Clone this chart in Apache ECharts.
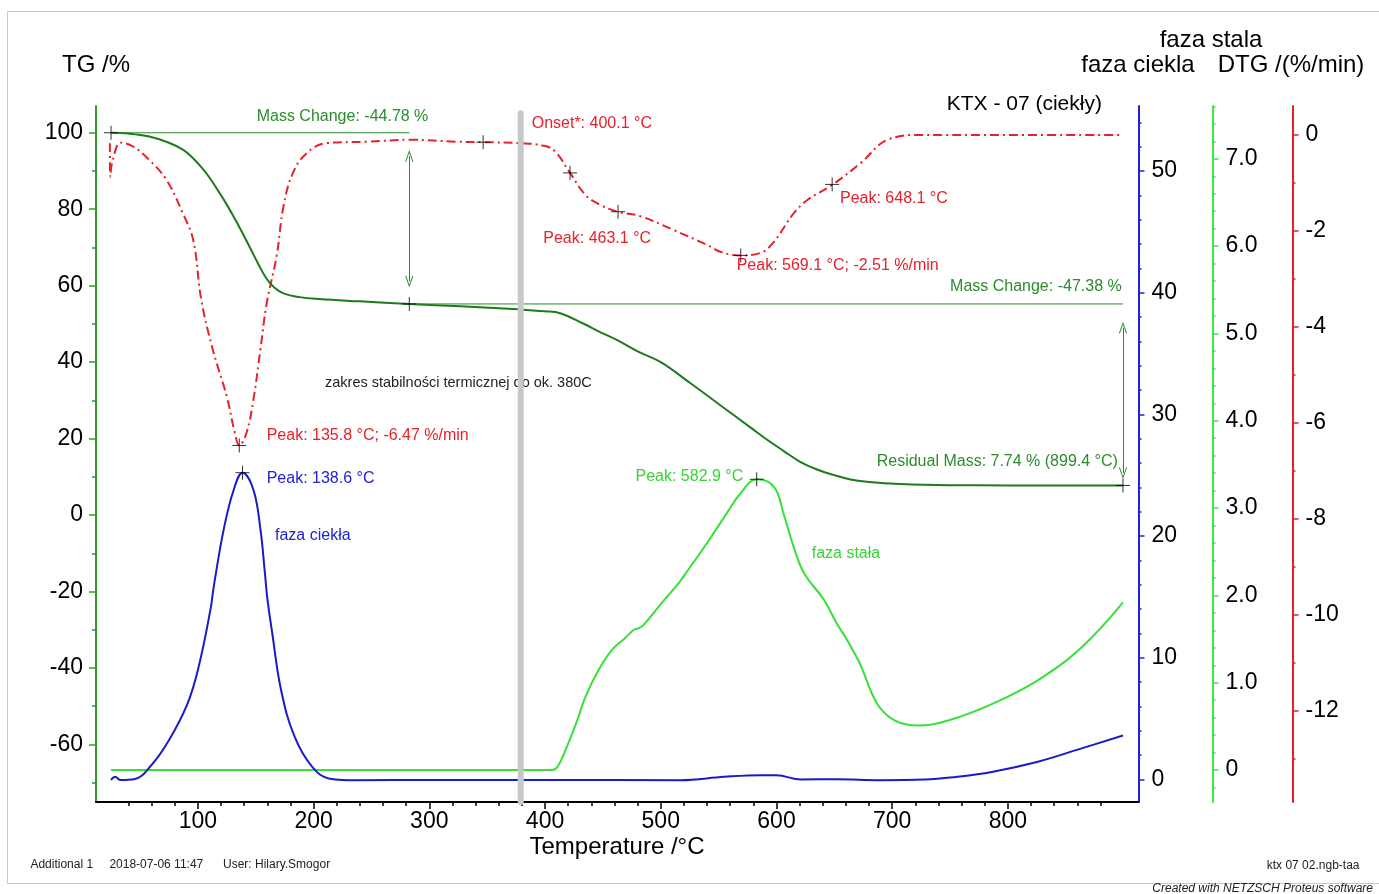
<!DOCTYPE html>
<html>
<head>
<meta charset="utf-8">
<script src="https://cdn.jsdelivr.net/npm/echarts@6/dist/echarts.min.js"></script>
<style>
html,body{margin:0;padding:0;background:#fff}
#chart{width:1379px;height:894px}
</style>
</head>
<body>
<div id="chart"></div>
<script>
// TG curve (left axis, %)
const tgTemp = [25, 40, 58, 75, 87, 95, 103, 110, 118, 125, 131, 138, 145, 152, 159, 166, 174, 188, 205, 240,
  283, 327, 377, 400, 413, 433, 448, 462, 480, 500, 526, 552, 578, 591, 606, 620, 635, 649, 664, 678,
  707, 750, 800, 850, 899.4];
const tgMass = [100, 99.8, 99, 97.4, 95.6, 93.6, 91.0, 88.3, 84.6, 81.2, 78.0, 74.1, 70.0, 65.8, 62.0, 59.5, 58.0, 57.0, 56.5, 55.9,
  55.2, 54.6, 53.8, 53.3, 52.8, 50.1, 47.8, 45.8, 42.8, 40.0, 34.4, 28.6, 22.8, 19.9, 16.8, 14.0, 11.9, 10.5, 9.3, 8.7,
  8.1, 7.8, 7.75, 7.74, 7.74];

// DTG curve (red axis, %/min)
const dtgTemp = [24, 24.3, 26.5, 33.5, 44, 58, 73, 87, 96, 103, 113, 125, 132, 135.8, 142, 148, 154, 159.5, 168, 174,
  182, 194, 211, 246, 283, 324, 346.5, 379, 400, 409, 421.6, 435, 448, 463.1, 482, 511, 540, 552, 569.1, 586,
  597, 615, 627, 648.1, 673, 696, 725, 800, 899.4];
const dtgRate = [-0.17, -0.87, -0.52, -0.16, -0.24, -0.52, -0.94, -1.63, -2.19, -3.44, -4.48, -5.45, -6.21, -6.47, -6.21, -5.52, -4.48, -3.51, -2.53, -1.49,
  -0.8, -0.38, -0.17, -0.14, -0.1, -0.14, -0.15, -0.17, -0.23, -0.35, -0.79, -1.25, -1.46, -1.6, -1.69, -1.98, -2.29, -2.44, -2.51, -2.46,
  -2.25, -1.63, -1.35, -1.04, -0.58, -0.1, 0, 0, 0];

// faza ciekla (blue axis)
const liqTemp = [25, 28.5, 33, 45, 60, 75, 91, 100.6, 111, 114, 122.5, 131, 138.6, 148, 154, 158, 160, 164.3, 172, 183.6,
  199, 214, 238, 300, 400, 517, 555, 586, 600, 621, 652, 690, 728, 755, 786, 825, 863, 899.4];
const liqVal = [-0.06, 0.21, -0.06, 0.0, 1.17, 3.2, 6.2, 9.2, 14.0, 16.0, 20.6, 23.8, 25.2, 23.8, 20.6, 16.9, 14.9, 12.0, 7.3, 3.5,
  1.0, 0.05, -0.08, -0.06, -0.06, -0.08, 0.2, 0.33, 0.33, -0.02, 0.0, -0.08, -0.03, 0.19, 0.6, 1.42, 2.52, 3.6];

// faza stala (green axis)
const solTemp = [25, 100, 200, 300, 406, 411, 419, 427, 435, 446, 458, 469, 477, 480, 485, 500, 516, 523, 540, 557,
  569, 583, 598, 606, 615, 624, 641, 652, 661, 672, 687, 702, 722, 749, 787, 826, 864, 899.4];
const solVal = [0, 0, 0, 0, 0, 0.04, 0.27, 0.54, 0.84, 1.14, 1.38, 1.51, 1.61, 1.62, 1.66, 1.9, 2.15, 2.28, 2.6, 2.94,
  3.17, 3.33, 3.24, 2.94, 2.55, 2.25, 1.95, 1.68, 1.49, 1.22, 0.76, 0.57, 0.51, 0.57, 0.76, 1.03, 1.41, 1.92];

// evaluation markers (+)
const tgMarkT = [25, 282.7, 899.4];
const tgMarkV = [100, 55.22, 7.74];
const dtgMarkT = [135.8, 346.5, 421.6, 463.1, 569.1, 648.1];
const dtgMarkV = [-6.47, -0.15, -0.79, -1.6, -2.51, -1.03];
const liqMarkT = [138.6];
const liqMarkV = [25.2];
const solMarkT = [582.9];
const solMarkV = [3.33];

// mass change steps
const stepLevels = [100, 55.22, 7.74];
const stepTemps = [25, 282.7, 899.4];

// tick labels
const tempLabels = [100, 200, 300, 400, 500, 600, 700, 800];
const tgLabels = [-60, -40, -20, 0, 20, 40, 60, 80, 100];
const liqLabels = [0, 10, 20, 30, 40, 50];
const solLabels = [0, 1, 2, 3, 4, 5, 6, 7];
const dtgLabels = [-12, -10, -8, -6, -4, -2, 0];

const zip = (a, b) => a.map((v, i) => [v, b[i]]);
function minors(lo, hi, step, major) {
  const out = [];
  for (let v = lo; v <= hi + 1e-9; v += step) {
    const r = Math.round(v * 100) / 100;
    if (Math.abs(r / major - Math.round(r / major)) > 1e-6) out.push(r);
  }
  return out;
}

const FONT = '"Liberation Sans", Arial, Helvetica, sans-serif';
const cTG = '#1d7a1d', cTGax = '#2f9a2f', cTGtxt = '#2b8c2b';
const cBlue = '#1a1ac8', cBlueAx = '#2222d8';
const cGreen = '#38e038', cGreenAx = '#3ee83e';
const cRed = '#e8202a';

function yAx(opt) {
  return {
    type: 'value', position: opt.pos, offset: opt.off, min: opt.min, max: opt.max,
    splitLine: { show: false },
    axisLine: { show: opt.line !== false, onZero: false, lineStyle: { color: opt.color, width: 2 } },
    axisTick: { show: true, length: opt.len, customValues: opt.ticks, lineStyle: { color: opt.color, width: 1.5 } },
    axisLabel: opt.labels ? {
      show: true, customValues: opt.labels, color: '#000', fontSize: 23, fontFamily: FONT, margin: 13,
      formatter: opt.fmt
    } : { show: false }
  };
}

const plus = 'path://M0,7 L14,7 M7,0 L7,14';
const chevron = 'path://M0,10 L5,0 L10,10 L9,10.6 L5,2.4 L1,10.6 Z';

function marks(t, v, yi) {
  return {
    type: 'scatter', yAxisIndex: yi, data: zip(t, v), symbol: plus, symbolSize: 14, z: 6, silent: true,
    itemStyle: { color: 'rgba(0,0,0,0)', borderColor: '#000', borderWidth: 1 }
  };
}

function curve(name, t, v, yi, style, z) {
  return {
    name: name, type: 'line', yAxisIndex: yi, data: zip(t, v), showSymbol: false,
    smooth: 0.4, lineStyle: style, z: z, silent: true
  };
}

function txt(text, x, y, align, size, color, extra) {
  return {
    type: 'text', x: x, y: y, z: 1,
    style: Object.assign({
      text: text, fill: color || '#000', font: size + 'px ' + FONT,
      textAlign: align, textVerticalAlign: 'middle'
    }, extra || {})
  };
}

const chart = echarts.init(document.getElementById('chart'), null, { renderer: 'canvas' });
const tgSeries = curve('TG', tgTemp, tgMass, 0, { color: cTG, width: 2 }, 3);
tgSeries.markLine = {
  silent: true, symbol: [chevron, chevron], symbolSize: [8, 12],
  lineStyle: { color: cTGtxt, width: 1, type: 'solid' }, label: { show: false },
  data: [
    [{ coord: [stepTemps[1], 93.9] }, { coord: [stepTemps[1], 61.1] }],
    [{ coord: [stepTemps[2], 49.0] }, { coord: [stepTemps[2], 11.0] }]
  ]
};

chart.setOption({
  animation: false,
  backgroundColor: '#fff',
  grid: { left: 96, right: 240.5, top: 106, bottom: 92, containLabel: false, outerBoundsMode: 'none' },
  xAxis: [
    {
      type: 'value', min: 12, max: 912.8, position: 'bottom',
      splitLine: { show: false },
      axisLine: { onZero: false, lineStyle: { color: '#000', width: 2 } },
      axisTick: { length: 7, customValues: tempLabels, lineStyle: { color: '#000', width: 1.5 } },
      axisLabel: { customValues: tempLabels, color: '#000', fontSize: 23, fontFamily: FONT, margin: 8 }
    },
    {
      type: 'value', min: 12, max: 912.8, position: 'bottom',
      splitLine: { show: false },
      axisLine: { show: false, onZero: false },
      axisTick: { length: 4, customValues: minors(40, 900, 20, 100), lineStyle: { color: '#000', width: 1.5 } },
      axisLabel: { show: false }
    }
  ],
  yAxis: [
    yAx({ pos: 'left', off: 0, min: -75.07, max: 107, color: cTGax, len: 7, ticks: tgLabels, labels: tgLabels, fmt: v => String(v) }),
    yAx({ pos: 'right', off: 0, min: -1.87, max: 55.34, color: cBlueAx, len: 6, ticks: liqLabels, labels: liqLabels, fmt: v => String(v) }),
    yAx({ pos: 'right', off: 74, min: -0.366, max: 7.605, color: cGreenAx, len: 6, ticks: solLabels, labels: solLabels, fmt: v => v === 0 ? '0' : v.toFixed(1) }),
    yAx({ pos: 'right', off: 154, min: -13.9, max: 0.604, color: cRed, len: 6, ticks: dtgLabels, labels: dtgLabels, fmt: v => String(v) }),
    yAx({ pos: 'left', off: 0, min: -75.07, max: 107, color: cTGax, len: 4, ticks: minors(-70, 100, 10, 20), line: false }),
    yAx({ pos: 'right', off: 0, min: -1.87, max: 55.34, color: cBlueAx, len: 3, ticks: minors(2, 54, 2, 10), line: false }),
    yAx({ pos: 'right', off: 74, min: -0.366, max: 7.605, color: cGreenAx, len: 3, ticks: minors(-0.2, 7.6, 0.2, 1), line: false }),
    yAx({ pos: 'right', off: 154, min: -13.9, max: 0.604, color: cRed, len: 3, ticks: minors(-13, 0, 1, 2), line: false })
  ],
  series: [
    curve('faza stala', solTemp, solVal, 2, { color: cGreen, width: 2 }, 2),
    curve('faza ciekla', liqTemp, liqVal, 1, { color: cBlue, width: 2 }, 2),
    curve('DTG', dtgTemp, dtgRate, 3, { color: cRed, width: 2, type: [9, 4, 2, 4] }, 3),
    tgSeries,
    {
      type: 'line', yAxisIndex: 0, data: [[stepTemps[0], stepLevels[0]], [stepTemps[1], stepLevels[0]]],
      showSymbol: false, lineStyle: { color: cTGtxt, width: 1 }, z: 4, silent: true
    },
    {
      type: 'line', yAxisIndex: 0, data: [[stepTemps[1], stepLevels[1]], [stepTemps[2], stepLevels[1]]],
      showSymbol: false, lineStyle: { color: cTGtxt, width: 1 }, z: 4, silent: true
    },
    {
      // stability limit ~380 C
      type: 'line', yAxisIndex: 0, data: [[379, 105.1], [379, -75.07]],
      showSymbol: false, lineStyle: { color: '#c8c8c8', width: 6, cap: 'round' }, z: 8, silent: true
    },
    marks(tgMarkT, tgMarkV, 0),
    marks(dtgMarkT, dtgMarkV, 3),
    marks(liqMarkT, liqMarkV, 1),
    marks(solMarkT, solMarkV, 2)
  ],
  graphic: [
    { type: 'rect', z: 0, shape: { x: 7.5, y: 11.5, width: 1385, height: 872 }, style: { fill: 'none', stroke: '#c8c8c8', lineWidth: 1 } },
    txt('TG /%', 96, 65.5, 'center', 24),
    txt('faza stala', 1211, 40, 'center', 24),
    txt('faza ciekla', 1138, 65, 'center', 24),
    txt('DTG /(%/min)', 1291, 65, 'center', 24),
    txt('KTX - 07 (ciekły)', 946.7, 104, 'left', 21),
    txt('Temperature /°C', 617, 847, 'center', 24),
    txt('Mass Change: -44.78 %', 256.7, 116.5, 'left', 16, cTGtxt),
    txt('Mass Change: -47.38 %', 1121.7, 287, 'right', 16, cTGtxt),
    txt('Residual Mass: 7.74 % (899.4 °C)', 876.7, 461.7, 'left', 16, cTGtxt),
    txt('Onset*: 400.1 °C', 531.7, 124, 'left', 16, cRed),
    txt('Peak: 463.1 °C', 543.3, 239, 'left', 16, cRed),
    txt('Peak: 569.1 °C; -2.51 %/min', 736.7, 266, 'left', 16, cRed),
    txt('Peak: 648.1 °C', 840, 199, 'left', 16, cRed),
    txt('Peak: 135.8 °C; -6.47 %/min', 266.7, 436, 'left', 16, cRed),
    txt('Peak: 138.6 °C', 266.7, 479, 'left', 16, cBlueAx),
    txt('faza ciekła', 275, 536, 'left', 16, cBlueAx),
    txt('Peak: 582.9 °C', 743.3, 476.7, 'right', 16, '#34d434'),
    txt('faza stała', 811.7, 554, 'left', 16, '#34d434'),
    txt('zakres stabilności termicznej do ok. 380C', 325, 383.3, 'left', 14.5, '#222'),
    txt('Additional 1', 30.4, 865, 'left', 12, '#222'),
    txt('2018-07-06 11:47', 109.4, 865, 'left', 12, '#222'),
    txt('User: Hilary.Smogor', 223, 865, 'left', 12, '#222'),
    txt('ktx 07 02.ngb-taa', 1359.5, 866, 'right', 12, '#222'),
    txt('Created with NETZSCH Proteus software', 1152.3, 889, 'left', 12, '#222', { font: 'italic 12px ' + FONT })
  ]
});
</script>
</body>
</html>
